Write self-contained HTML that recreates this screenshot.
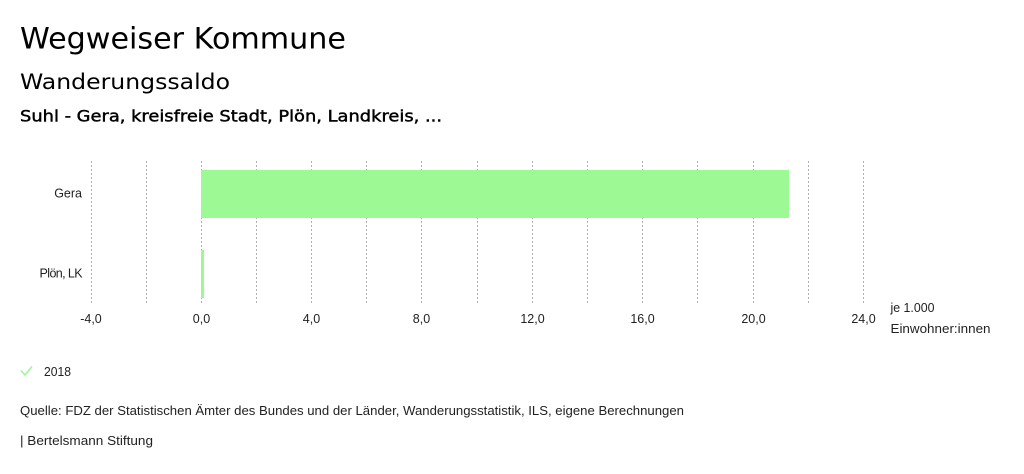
<!DOCTYPE html>
<html>
<head>
<meta charset="utf-8">
<style>
  html, body { margin:0; padding:0; background:#fff; }
  body { width:1024px; height:474px; overflow:hidden; }
  svg { display:block; }
  .t { font-family: "DejaVu Sans", "Liberation Sans", sans-serif; fill:#000; }
  .s { font-family: "Liberation Sans", sans-serif; fill:#222; font-size:12.5px; }
</style>
</head>
<body>
<svg width="1024" height="474" viewBox="0 0 1024 474" xmlns="http://www.w3.org/2000/svg">
  <rect width="1024" height="474" fill="#fff"/>
  <text class="t" x="20" y="48.5" font-size="29" textLength="326" lengthAdjust="spacingAndGlyphs">Wegweiser Kommune</text>
  <text class="t" x="20" y="89" font-size="21" textLength="210" lengthAdjust="spacingAndGlyphs">Wanderungssaldo</text>
  <text class="t" x="20" y="121.5" font-size="16" stroke="#000" stroke-width="0.45" textLength="422" lengthAdjust="spacingAndGlyphs">Suhl - Gera, kreisfreie Stadt, Plön, Landkreis, ...</text>

  <!-- gridlines -->
  <g stroke="#b0b0b0" stroke-width="1" stroke-dasharray="2,2">
    <line x1="91.5" y1="161" x2="91.5" y2="304"/>
    <line x1="146.5" y1="161" x2="146.5" y2="304"/>
    <line x1="201.5" y1="161" x2="201.5" y2="304"/>
    <line x1="256.5" y1="161" x2="256.5" y2="304"/>
    <line x1="311.5" y1="161" x2="311.5" y2="304"/>
    <line x1="366.5" y1="161" x2="366.5" y2="304"/>
    <line x1="421.5" y1="161" x2="421.5" y2="304"/>
    <line x1="477.5" y1="161" x2="477.5" y2="304"/>
    <line x1="532.5" y1="161" x2="532.5" y2="304"/>
    <line x1="587.5" y1="161" x2="587.5" y2="304"/>
    <line x1="642.5" y1="161" x2="642.5" y2="304"/>
    <line x1="697.5" y1="161" x2="697.5" y2="304"/>
    <line x1="753.5" y1="161" x2="753.5" y2="304"/>
    <line x1="808.5" y1="161" x2="808.5" y2="304"/>
    <line x1="863.5" y1="161" x2="863.5" y2="304"/>
  </g>

  <!-- bars -->
  <rect x="201" y="170" width="588" height="48" fill="#9cf994"/>
  <rect x="201" y="250" width="3" height="48" fill="#9cf994"/>

  <!-- category labels -->
  <text class="s" x="82" y="197.5" text-anchor="end" font-size="13">Gera</text>
  <text class="s" x="82" y="277.5" text-anchor="end" font-size="13" letter-spacing="-0.6">Plön, LK</text>

  <!-- tick labels -->
  <g class="s" text-anchor="middle" font-size="12.5">
    <text x="91" y="323">-4,0</text>
    <text x="201.5" y="323">0,0</text>
    <text x="311.5" y="323">4,0</text>
    <text x="421.5" y="323">8,0</text>
    <text x="532.5" y="323">12,0</text>
    <text x="642.5" y="323">16,0</text>
    <text x="753.5" y="323">20,0</text>
    <text x="863.5" y="323">24,0</text>
  </g>
  <text class="s" x="890.5" y="312" font-size="12.5" textLength="44" lengthAdjust="spacingAndGlyphs">je 1.000</text>
  <text class="s" x="890.5" y="333" font-size="12.5" textLength="100" lengthAdjust="spacingAndGlyphs">Einwohner:innen</text>

  <!-- legend -->
  <polyline points="21,370.5 25,375 32,366.5" fill="none" stroke="#9cf994" stroke-width="1.6"/>
  <text class="s" x="44" y="376" font-size="13" textLength="27" lengthAdjust="spacingAndGlyphs">2018</text>

  <!-- source -->
  <text class="s" x="20" y="415" font-size="13" textLength="664" lengthAdjust="spacingAndGlyphs">Quelle: FDZ der Statistischen Ämter des Bundes und der Länder, Wanderungsstatistik, ILS, eigene Berechnungen</text>
  <text class="s" x="20" y="445" font-size="13" textLength="133" lengthAdjust="spacingAndGlyphs">| Bertelsmann Stiftung</text>
</svg>
</body>
</html>
